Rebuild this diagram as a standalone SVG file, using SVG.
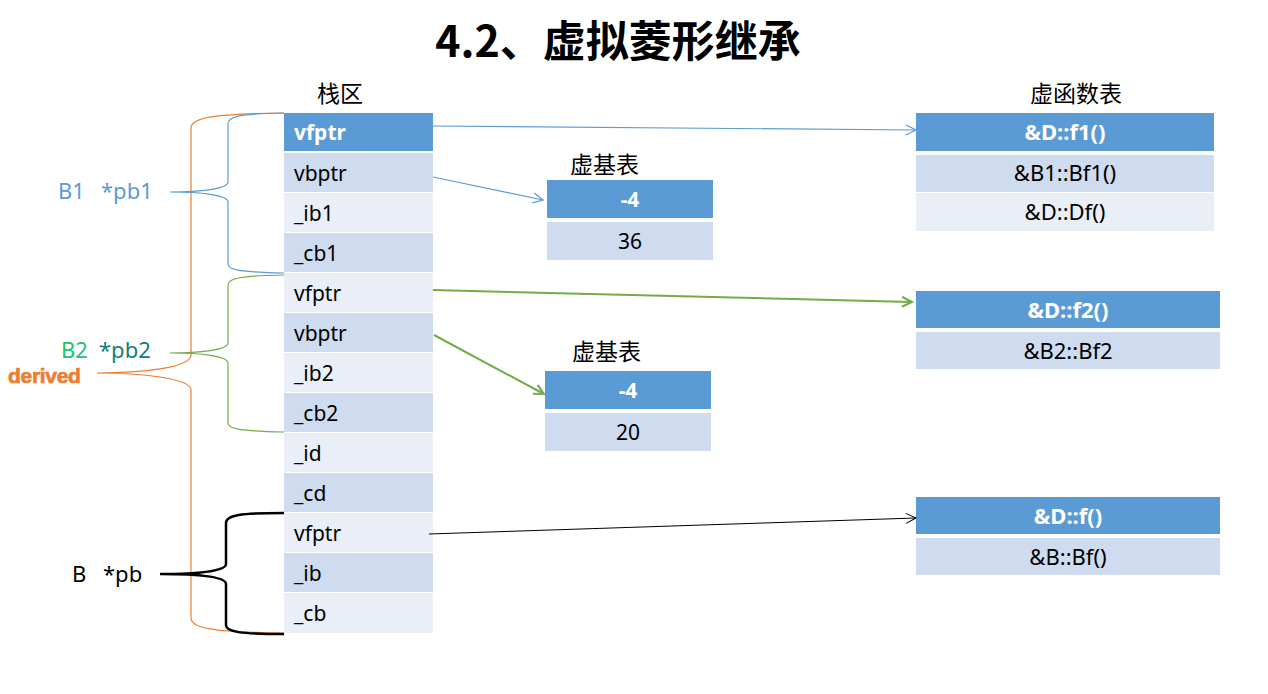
<svg xmlns="http://www.w3.org/2000/svg" width="1268" height="694" viewBox="0 0 1268 694">
<style>
.t{font-family:"Noto Sans","Open Sans",sans-serif;font-size:21px;fill:#000}
.tr{font-family:"Noto Sans","Open Sans",sans-serif;font-size:22px;fill:#000}
.hw{font-family:"Noto Sans","Open Sans",sans-serif;font-size:21px;font-weight:bold;fill:#fff}
.lb{font-family:"Noto Sans","Open Sans",sans-serif;font-size:22px}
.c{text-anchor:middle}
.cjk{font-family:"Noto Sans CJK SC",sans-serif;font-size:23px;fill:#000}
.hd{fill:#5B9BD5}
.dk{fill:#CFDBEE}
.lt{fill:#E9EEF7}
.br{fill:none}
</style>
<defs>
<marker id="mb" markerUnits="userSpaceOnUse" markerWidth="14" markerHeight="12" refX="11" refY="6" orient="auto"><path d="M1,1 L11,6 L1,11" fill="none" stroke="#5B9BD5" stroke-width="1.2"/></marker>
<marker id="mg" markerUnits="userSpaceOnUse" markerWidth="14" markerHeight="12" refX="11" refY="6" orient="auto"><path d="M1,1 L11,6 L1,11" fill="none" stroke="#70AD47" stroke-width="2"/></marker>
<marker id="mk" markerUnits="userSpaceOnUse" markerWidth="14" markerHeight="12" refX="11" refY="6" orient="auto"><path d="M1,1 L11,6 L1,11" fill="none" stroke="#000" stroke-width="1"/></marker>
</defs>
<rect width="1268" height="694" fill="#fff"/>
<text x="618" y="57" text-anchor="middle" font-family="Noto Sans CJK SC,sans-serif" font-size="43" font-weight="bold">4.2、虚拟菱形继承</text>
<text x="317" y="102" class="cjk">栈区</text>

<g id="stack">
<rect x="284" y="113" width="149" height="38" class="hd"/><text x="294" y="140" class="hw">vfptr</text>
<rect x="284" y="153" width="149" height="39" class="dk"/><text x="294" y="181" class="t">vbptr</text>
<rect x="284" y="193" width="149" height="39" class="lt"/><text x="294" y="221" class="t">_ib1</text>
<rect x="284" y="233" width="149" height="39" class="dk"/><text x="294" y="261" class="t">_cb1</text>
<rect x="284" y="273" width="149" height="39" class="lt"/><text x="294" y="301" class="t">vfptr</text>
<rect x="284" y="313" width="149" height="39" class="dk"/><text x="294" y="341" class="t">vbptr</text>
<rect x="284" y="353" width="149" height="39" class="lt"/><text x="294" y="381" class="t">_ib2</text>
<rect x="284" y="393" width="149" height="39" class="dk"/><text x="294" y="421" class="t">_cb2</text>
<rect x="284" y="433" width="149" height="39" class="lt"/><text x="294" y="461" class="t">_id</text>
<rect x="284" y="473" width="149" height="39" class="dk"/><text x="294" y="501" class="t">_cd</text>
<rect x="284" y="513" width="149" height="39" class="lt"/><text x="294" y="541" class="t">vfptr</text>
<rect x="284" y="553" width="149" height="39" class="dk"/><text x="294" y="581" class="t">_ib</text>
<rect x="284" y="593" width="149" height="40" class="lt"/><text x="294" y="621" class="t">_cb</text>
</g>

<g id="vbtable1">
<text x="570" y="173" class="cjk">虚基表</text>
<rect x="547" y="180" width="166" height="38" class="hd"/><text x="630" y="207" class="hw c">-4</text>
<rect x="547" y="222" width="166" height="38" class="dk"/><text x="630" y="249" class="t c">36</text>
</g>

<g id="vbtable2">
<text x="572" y="360" class="cjk">虚基表</text>
<rect x="545" y="371" width="166" height="38" class="hd"/><text x="628" y="398" class="hw c">-4</text>
<rect x="545" y="413" width="166" height="38" class="dk"/><text x="628" y="440" class="t c">20</text>
</g>

<g id="vftable1">
<text x="1030" y="102" class="cjk">虚函数表</text>
<rect x="916" y="113" width="298" height="38" class="hd"/><text x="1065" y="140" class="hw c" style="font-size:22px">&amp;D::f1()</text>
<rect x="916" y="155" width="298" height="37" class="dk"/><text x="1065" y="181" class="tr c">&amp;B1::Bf1()</text>
<rect x="916" y="193" width="298" height="38" class="lt"/><text x="1065" y="220" class="tr c">&amp;D::Df()</text>
</g>

<g id="vftable2">
<rect x="916" y="291" width="304" height="37" class="hd"/><text x="1068" y="318" class="hw c" style="font-size:22px">&amp;D::f2()</text>
<rect x="916" y="332" width="304" height="37" class="dk"/><text x="1068" y="359" class="tr c">&amp;B2::Bf2</text>
</g>

<g id="vftable3">
<rect x="916" y="497" width="304" height="37" class="hd"/><text x="1068" y="524" class="hw c" style="font-size:22px">&amp;D::f()</text>
<rect x="916" y="538" width="304" height="37" class="dk"/><text x="1068" y="565" class="tr c">&amp;B::Bf()</text>
</g>

<g id="labels">
<text x="58" y="199" class="lb" fill="#5B9BD5">B1</text>
<text x="101" y="199" class="lb" fill="#5B9BD5">*pb1</text>
<text x="61" y="358" class="lb" fill="#1BC46A">B2</text>
<text x="99" y="358" class="lb" fill="#0E7F7A">*pb2</text>
<text x="8" y="383" font-family="Liberation Sans,Arial,sans-serif" font-size="21" font-weight="bold" fill="#ED7D31" stroke="#ED7D31" stroke-width="0.7" letter-spacing="-0.3">derived</text>
<text x="72" y="582" class="lb" fill="#000">B</text>
<text x="103" y="582" class="lb" fill="#000">*pb</text>
</g>

<g id="connectors">
<path class="br" stroke="#ED7D31" stroke-width="1.2" d="M284,113 C210,114 191,118 191,128 L191,355 C191,368 140,373 97,373 C140,373 191,378 191,390 L191,618 C191,628 210,632 284,633"/>
<path class="br" stroke="#5B9BD5" stroke-width="1.2" d="M284,113 C240,114 228,116 228,124 L228,182 C228,189 200,192 170,192 C200,192 228,195 228,202 L228,264 C228,270 240,272 284,273"/>
<path class="br" stroke="#70AD47" stroke-width="1.2" d="M284,275 C240,276 228,278 228,285 L228,343 C228,350 200,353 170,353 C200,353 228,356 228,363 L228,423 C228,429 240,431 284,432"/>
<path class="br" stroke="#000" stroke-width="2.5" d="M284,513 C240,513 226,515 226,523 L226,564 C226,571 200,574 160,574 C200,574 226,577 226,584 L226,625 C226,632 240,634 284,634"/>
<line x1="433" y1="126" x2="916" y2="130" stroke="#5B9BD5" stroke-width="1.2" marker-end="url(#mb)"/>
<line x1="433" y1="177" x2="543" y2="200" stroke="#5B9BD5" stroke-width="1.2" marker-end="url(#mb)"/>
<line x1="433" y1="290" x2="912" y2="302" stroke="#70AD47" stroke-width="2" marker-end="url(#mg)"/>
<line x1="434" y1="335" x2="544" y2="394" stroke="#70AD47" stroke-width="2" marker-end="url(#mg)"/>
<line x1="429" y1="534" x2="916" y2="518" stroke="#000" stroke-width="1" marker-end="url(#mk)"/>
</g>
</svg>
